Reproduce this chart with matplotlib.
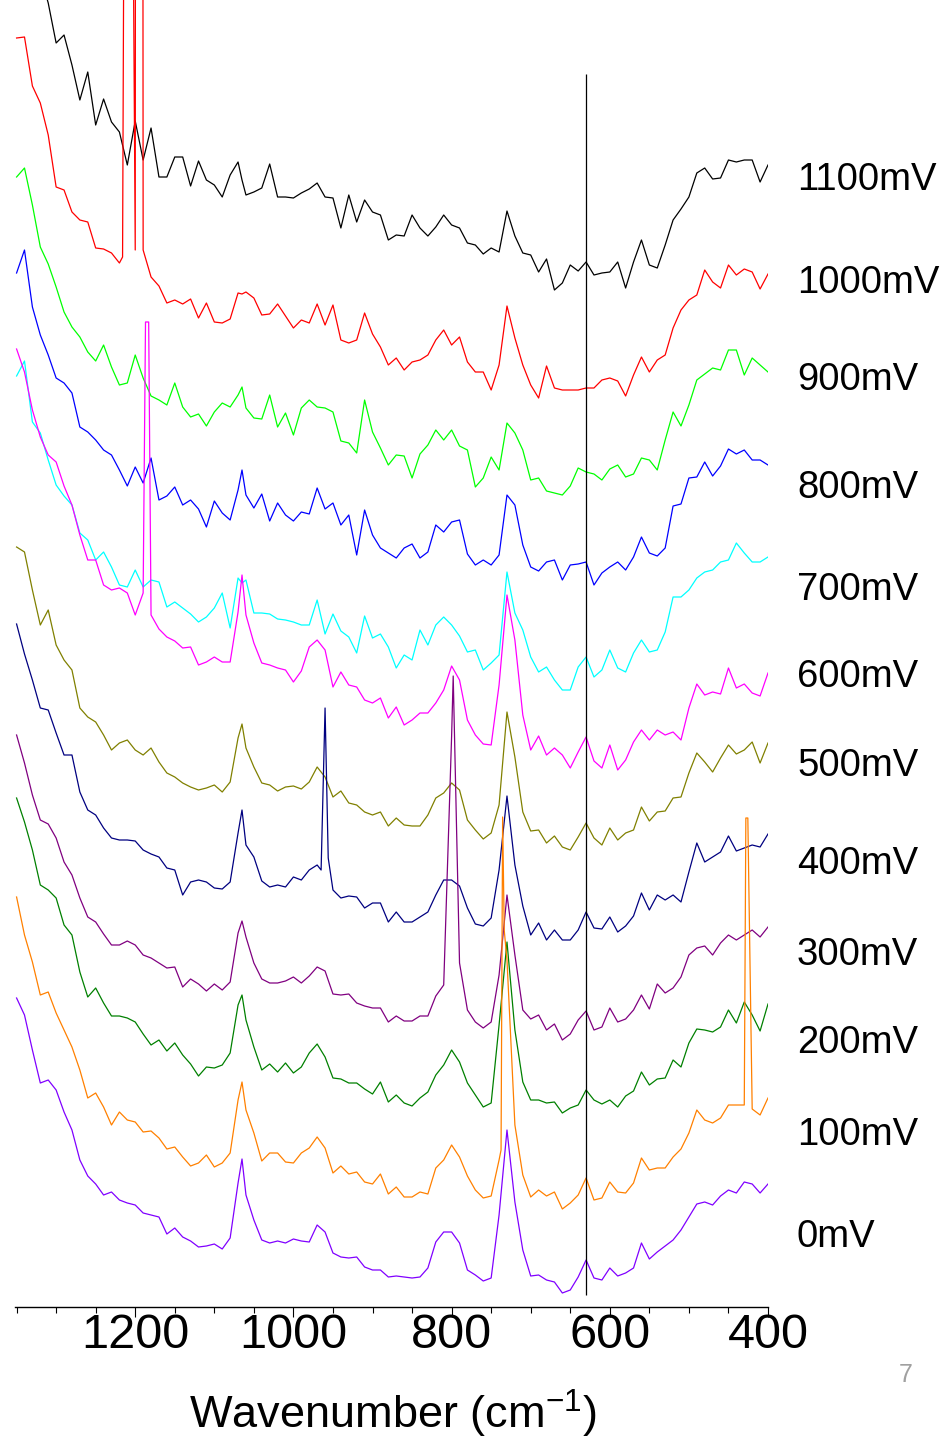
import matplotlib
matplotlib.use("Agg")
import matplotlib.pyplot as plt
from matplotlib import font_manager
from matplotlib.ticker import MultipleLocator

# wavenumber grid (cm-1), extra sample at the 1065 band
wavenumbers = list(range(1350, 1069, -10)) + [1065] + list(range(1060, 399, -10))

potentials = ["1100mV", "1000mV", "900mV", "800mV", "700mV", "600mV",
              "500mV", "400mV", "300mV", "200mV", "100mV", "0mV"]

# stacked spectra (offset intensity, a.u.)
s1100 = [1417, 1392, 1362, 1332, 1304, 1264, 1272, 1242, 1207, 1235,
         1182, 1208, 1185, 1175, 1142, 1186, 1147, 1179, 1130, 1130,
         1150, 1150, 1121, 1146, 1127, 1122, 1110, 1132, 1145, 1127,
         1112, 1115, 1119, 1143, 1110, 1110, 1109, 1114, 1118, 1124,
         1110, 1109, 1079, 1112, 1085, 1107, 1095, 1092, 1067, 1072,
         1071, 1092, 1079, 1071, 1080, 1092, 1082, 1079, 1064, 1062,
         1053, 1059, 1055, 1096, 1071, 1054, 1052, 1035, 1048, 1017,
         1024, 1042, 1036, 1045, 1032, 1034, 1035, 1045, 1019, 1045,
         1067, 1042, 1039, 1062, 1087, 1098, 1110, 1134, 1139, 1128,
         1129, 1147, 1145, 1147, 1147, 1125, 1142]
s1000 = [1269, 1270, 1221, 1204, 1172, 1120, 1117, 1095, 1087, 1085,
         1059, 1058, 1054, 1044, 2307, 1057, 1057, 1030, 1021, 1004,
         1007, 1003, 1008, 989, 1004, 985, 984, 988, 1014, 1013,
         1015, 1009, 992, 993, 1003, 991, 979, 987, 984, 1003,
         982, 1002, 967, 964, 967, 994, 973, 960, 942, 949,
         937, 945, 947, 952, 967, 977, 962, 970, 945, 935,
         935, 917, 942, 1001, 969, 942, 922, 909, 941, 919,
         917, 917, 917, 919, 919, 927, 929, 926, 911, 932,
         950, 935, 947, 952, 979, 997, 1007, 1012, 1037, 1025,
         1019, 1042, 1032, 1038, 1035, 1018, 1033]
s900 = [1130, 1139, 1102, 1060, 1043, 1020, 995, 980, 970, 955,
        946, 962, 940, 922, 924, 952, 929, 911, 907, 902,
        924, 900, 890, 893, 881, 895, 904, 900, 912, 920,
        899, 889, 888, 912, 880, 894, 872, 899, 907, 900,
        899, 895, 866, 864, 854, 907, 875, 859, 842, 852,
        851, 829, 853, 862, 877, 867, 877, 861, 857, 820,
        829, 850, 837, 884, 874, 857, 827, 829, 816, 814,
        812, 821, 839, 835, 833, 827, 838, 842, 830, 833,
        849, 847, 837, 867, 895, 881, 902, 927, 933, 939,
        937, 957, 957, 932, 949, 942, 935]
s800 = [1034, 1057, 1000, 972, 952, 929, 924, 914, 880, 875,
        867, 857, 852, 837, 821, 840, 824, 849, 807, 811,
        820, 802, 807, 798, 780, 806, 794, 787, 817, 837,
        812, 799, 813, 786, 804, 792, 786, 795, 793, 819,
        798, 804, 782, 792, 752, 797, 772, 759, 754, 749,
        759, 763, 749, 755, 782, 775, 785, 787, 753, 742,
        747, 742, 752, 812, 802, 762, 740, 736, 745, 747,
        727, 742, 743, 745, 722, 734, 740, 745, 737, 750,
        770, 754, 751, 759, 801, 803, 829, 830, 845, 831,
        841, 858, 853, 857, 847, 847, 842]
s700 = [931, 946, 885, 874, 847, 822, 811, 802, 774, 767,
        747, 755, 740, 722, 720, 737, 720, 727, 725, 700,
        705, 699, 693, 685, 690, 699, 714, 679, 729, 724,
        727, 694, 694, 693, 688, 687, 685, 682, 682, 707,
        673, 693, 676, 670, 654, 691, 669, 673, 660, 639,
        652, 647, 677, 662, 682, 690, 682, 671, 655, 657,
        637, 644, 652, 735, 694, 677, 650, 635, 640, 627,
        617, 617, 640, 650, 630, 637, 657, 639, 635, 654,
        667, 655, 657, 675, 710, 710, 717, 729, 735, 737,
        745, 747, 764, 754, 745, 745, 750]
s600 = [958, 935, 897, 870, 852, 845, 821, 802, 772, 747,
        747, 722, 717, 719, 714, 692, 714, 692, 678, 670,
        666, 659, 660, 642, 645, 650, 645, 645, 695, 732,
        692, 664, 644, 642, 639, 637, 625, 636, 660, 667,
        657, 620, 635, 622, 620, 607, 604, 609, 589, 600,
        582, 587, 594, 594, 604, 617, 641, 627, 587, 572,
        563, 562, 622, 712, 667, 592, 557, 571, 552, 559,
        552, 539, 555, 570, 546, 539, 562, 537, 547, 565,
        577, 567, 577, 572, 575, 567, 599, 623, 612, 615,
        613, 639, 619, 623, 614, 611, 634]
s500 = [760, 755, 717, 682, 697, 662, 647, 637, 599, 590,
        585, 572, 557, 564, 567, 557, 552, 559, 545, 534,
        530, 524, 520, 517, 519, 522, 515, 525, 569, 583,
        559, 540, 524, 522, 516, 520, 521, 518, 525, 540,
        530, 510, 516, 504, 502, 495, 492, 495, 481, 489,
        482, 481, 481, 492, 509, 514, 524, 517, 487, 477,
        468, 474, 502, 595, 550, 495, 476, 477, 464, 471,
        460, 457, 470, 484, 469, 462, 479, 467, 474, 477,
        500, 486, 495, 496, 509, 510, 534, 554, 545, 535,
        549, 562, 553, 557, 565, 544, 564]
s400 = [683, 653, 627, 599, 597, 574, 552, 552, 515, 497,
        492, 479, 469, 467, 467, 466, 457, 453, 450, 439,
        437, 412, 425, 427, 425, 419, 418, 425, 474, 497,
        462, 450, 426, 420, 422, 420, 430, 427, 437, 442,
        599, 417, 409, 411, 410, 399, 404, 404, 385, 395,
        385, 385, 390, 395, 412, 427, 427, 421, 399, 383,
        381, 389, 437, 511, 442, 401, 372, 384, 367, 377,
        367, 367, 377, 395, 379, 378, 390, 375, 381, 391,
        414, 397, 412, 407, 412, 405, 435, 464, 445, 450,
        455, 471, 456, 459, 462, 460, 473]
s300 = [572, 544, 512, 487, 483, 469, 445, 432, 409, 390,
        385, 373, 362, 362, 366, 362, 352, 349, 344, 339,
        340, 320, 328, 323, 316, 323, 317, 325, 374, 386,
        370, 344, 328, 324, 324, 326, 330, 324, 331, 340,
        336, 313, 312, 313, 304, 301, 299, 299, 285, 291,
        286, 286, 291, 291, 311, 322, 571, 344, 297, 285,
        279, 285, 332, 412, 352, 297, 288, 292, 277, 283,
        267, 273, 287, 296, 277, 280, 299, 285, 288, 297,
        312, 298, 323, 314, 319, 330, 352, 359, 361, 352,
        364, 372, 367, 372, 377, 370, 380]
s200 = [509, 485, 457, 422, 417, 409, 382, 372, 335, 310,
        319, 304, 291, 291, 289, 285, 273, 262, 267, 256,
        264, 252, 243, 231, 240, 239, 242, 254, 302, 312,
        287, 260, 237, 243, 235, 244, 234, 240, 254, 263,
        250, 229, 228, 224, 224, 218, 213, 225, 205, 212,
        204, 201, 209, 215, 232, 242, 257, 245, 224, 212,
        200, 204, 282, 365, 277, 225, 207, 207, 204, 205,
        194, 199, 202, 217, 207, 203, 207, 200, 211, 216,
        235, 222, 228, 229, 247, 240, 264, 278, 277, 275,
        280, 297, 284, 305, 292, 276, 303]
s100 = [410, 372, 345, 312, 315, 294, 277, 260, 237, 209,
        214, 200, 182, 195, 187, 185, 175, 176, 169, 158,
        160, 150, 141, 144, 152, 140, 144, 154, 207, 225,
        197, 174, 146, 154, 154, 145, 144, 154, 159, 170,
        159, 134, 141, 133, 135, 125, 123, 133, 113, 120,
        110, 110, 115, 113, 139, 147, 162, 150, 131, 117,
        109, 111, 147, 347, 182, 132, 110, 117, 111, 115,
        98, 104, 112, 129, 107, 109, 125, 115, 114, 124,
        149, 137, 139, 139, 150, 158, 174, 197, 187, 184,
        189, 202, 202, 202, 198, 192, 209]
s0 = [309, 292, 257, 224, 227, 217, 195, 177, 147, 131,
      123, 112, 115, 107, 104, 102, 94, 92, 90, 73,
      79, 70, 66, 60, 61, 63, 58, 69, 124, 148,
      112, 87, 67, 64, 66, 64, 68, 66, 65, 82,
      75, 54, 50, 49, 50, 40, 37, 37, 30, 31,
      30, 29, 30, 39, 65, 75, 75, 64, 37, 32,
      26, 29, 92, 177, 105, 57, 31, 32, 27, 25,
      14, 17, 30, 47, 29, 27, 39, 31, 34, 39,
      64, 48, 55, 61, 67, 77, 90, 103, 105, 102,
      111, 117, 114, 125, 123, 114, 123]

# narrow cosmic-ray spikes sampled off the grid: (wavenumber, intensity)
spikes = {
    "1000mV": [(1216, 1050), (1199, 2307), (1191, 2307)],
    "600mV": [(1187, 985), (1183, 985)],
    "400mV": [(965, 437), (956, 449)],
    "300mV": [(798, 631)],
    "100mV": [(737.5, 157), (735.5, 490), (733.5, 377), (428, 489), (425.5, 489)],
}

spectra = [s1100, s1000, s900, s800, s700, s600, s500, s400, s300, s200, s100, s0]
colors = ["#000000", "#ff0000", "#00ff00", "#0000ff", "#00ffff", "#ff00ff",
          "#808000", "#000080", "#800080", "#008000", "#ff8000", "#8000ff"]
label_levels = [1127, 1024, 927, 819, 717, 630, 541, 443, 352, 264, 172, 70]

marker_wn = 630
marker_span = (12, 1233)

# pick a narrow sans if the system has one, else plain Liberation Sans
names = {f.name for f in font_manager.fontManager.ttflist}
if "Liberation Sans Narrow" in names:
    FONT = "Liberation Sans Narrow"
    tick_fs, lab_fs, xl_fs = 38, 32, 37
else:
    FONT = "Liberation Sans"
    tick_fs, lab_fs, xl_fs = 35, 27.5, 32.5
plt.rcParams["font.family"] = [FONT, "DejaVu Sans"]
plt.rcParams["mathtext.default"] = "regular"


def with_spikes(values, extra):
    pts = list(zip(wavenumbers, values)) + list(extra)
    pts.sort(key=lambda p: -p[0])
    xs, ys = zip(*pts)
    return xs, ys


fig = plt.figure(figsize=(9.47, 14.4), dpi=100)
ax = fig.add_axes([15 / 947, 133 / 1440, 753 / 947, 1307 / 1440])

for name, vals, col in zip(potentials, spectra, colors):
    xs, ys = with_spikes(vals, spikes.get(name, []))
    ax.plot(xs, ys, color=col, lw=0.9)

ax.vlines(marker_wn, marker_span[0], marker_span[1], color="black", lw=0.9)

ax.set_xlim(1352, 400)
ax.set_ylim(0, 1307)

for name, lvl in zip(potentials, label_levels):
    ax.text(1.0385, lvl, name, transform=ax.get_yaxis_transform(),
            ha="left", va="center", fontsize=lab_fs, clip_on=False)

for side in ["left", "right", "top"]:
    ax.spines[side].set_visible(False)
ax.spines["bottom"].set_linewidth(1.0)
ax.set_yticks([])
ax.set_xticks([1200, 1000, 800, 600, 400])
ax.xaxis.set_minor_locator(MultipleLocator(50))
ax.tick_params(axis="x", which="major", direction="out", length=7.5, width=0.8,
               labelsize=tick_fs, pad=-3)
ax.tick_params(axis="x", which="minor", direction="out", length=4.5, width=0.8)

fig.text(393 / 947, 1 - 1429 / 1440, "Wavenumber (cm$^{-1}$)", ha="center",
         va="baseline", fontsize=xl_fs)
fig.text(906 / 947, 1 - 1375 / 1440, "7", ha="center", va="center",
         fontsize=18, color="#a0a0a0")

fig.savefig("out.png", dpi=100)
